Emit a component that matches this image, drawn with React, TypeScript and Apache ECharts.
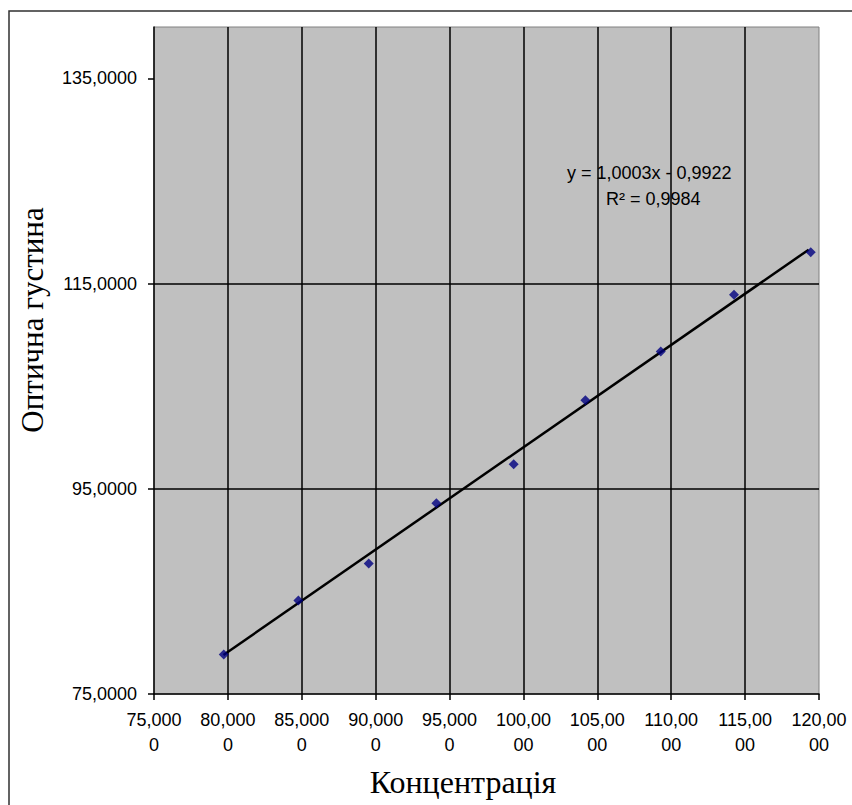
import React, { useEffect, useRef } from "react";
import * as echarts from "echarts";

const concentration = [79.72, 84.77, 89.53, 94.11, 99.34, 104.19, 109.29, 114.25, 119.44];
const opticalDensity = [78.84, 84.11, 87.72, 93.58, 97.38, 103.62, 108.37, 113.9, 118.06];
const trendX = [79.7, 119.3];
const trendY = [78.8, 118.3];
const yTicks = [75, 95, 115, 135];
const equationText = "y = 1,0003x - 0,9922";
const r2Text = "R² = 0,9984";
const xTitle = "Концентрація";
const yTitle = "Оптична густина";

const fmt = (v: number) => v.toFixed(4).replace(".", ",");

export default function App() {
  const ref = useRef<HTMLDivElement>(null);
  useEffect(() => {
    if (!ref.current) return;
    const chart = echarts.init(ref.current, null, { renderer: "svg" });
    const sans = "'Liberation Sans', Arial, sans-serif";
    const serif = "'Liberation Serif', 'Times New Roman', serif";
    chart.setOption({
      animation: false,
      backgroundColor: "#ffffff",
      grid: {
        left: 154,
        right: 33,
        top: 27,
        bottom: 111,
        show: true,
        backgroundColor: "#c0c0c0",
        borderColor: "#808080",
        borderWidth: 1,
      },
      xAxis: {
        type: "value",
        min: 75,
        max: 120,
        interval: 5,
        axisLine: { show: true, onZero: false, lineStyle: { color: "#000", width: 1.5 } },
        axisTick: { show: true, inside: false, length: 6, lineStyle: { color: "#000", width: 1.5 } },
        splitLine: { show: true, showMaxLine: false, showMinLine: false, lineStyle: { color: "#000", width: 1.5 } },
        axisLabel: {
          margin: 13,
          color: "#000",
          fontFamily: sans,
          fontSize: 18,
          lineHeight: 25,
          formatter: (v: number) => {
            const s = fmt(v);
            return s.slice(0, 6) + "\n" + s.slice(6);
          },
        },
      },
      yAxis: {
        type: "value",
        min: 75,
        max: 140,
        interval: 20,
        axisLine: { show: true, onZero: false, lineStyle: { color: "#000", width: 1.5 } },
        axisTick: { show: true, inside: false, length: 6, customValues: yTicks, lineStyle: { color: "#000", width: 1.5 } },
        splitLine: { show: true, showMaxLine: false, showMinLine: false, lineStyle: { color: "#000", width: 1.5 } },
        axisLabel: {
          margin: 17,
          color: "#000",
          fontFamily: sans,
          fontSize: 18,
          customValues: yTicks,
          formatter: (v: number) => fmt(v),
        },
      },
      series: [
        {
          type: "line",
          data: trendX.map((x, i) => [x, trendY[i]]),
          symbol: "none",
          lineStyle: { color: "#000", width: 2.5 },
          z: 3,
        },
        {
          type: "scatter",
          data: concentration.map((x, i) => [x, opticalDensity[i]]),
          symbol: "diamond",
          symbolSize: 10,
          itemStyle: { color: "#000080" },
          z: 4,
        },
      ],
      graphic: [
        {
          type: "rect",
          z: -10,
          silent: true,
          shape: { x: 9, y: 11, width: 1000, height: 1000 },
          style: { fill: "none", stroke: "#303030", lineWidth: 1.5 },
        },
        {
          type: "text",
          x: 567,
          y: 173,
          style: { text: equationText, fontFamily: sans, fontSize: 18, fill: "#000", verticalAlign: "middle", align: "left" },
        },
        {
          type: "text",
          x: 606,
          y: 199,
          style: { text: r2Text, fontFamily: sans, fontSize: 18, fill: "#000", verticalAlign: "middle", align: "left" },
        },
        {
          type: "text",
          x: 463,
          y: 782,
          style: { text: xTitle, fontFamily: serif, fontSize: 32, fill: "#000", align: "center", verticalAlign: "middle" },
        },
        {
          type: "text",
          x: 32,
          y: 320,
          rotation: Math.PI / 2,
          style: { text: yTitle, fontFamily: serif, fontSize: 31, fill: "#000", align: "center", verticalAlign: "middle" },
        },
      ],
    });
    return () => chart.dispose();
  }, []);
  return (
    <div
      ref={ref}
      style={{ position: "absolute", left: 0, top: 0, width: 852, height: 805 }}
    />
  );
}
